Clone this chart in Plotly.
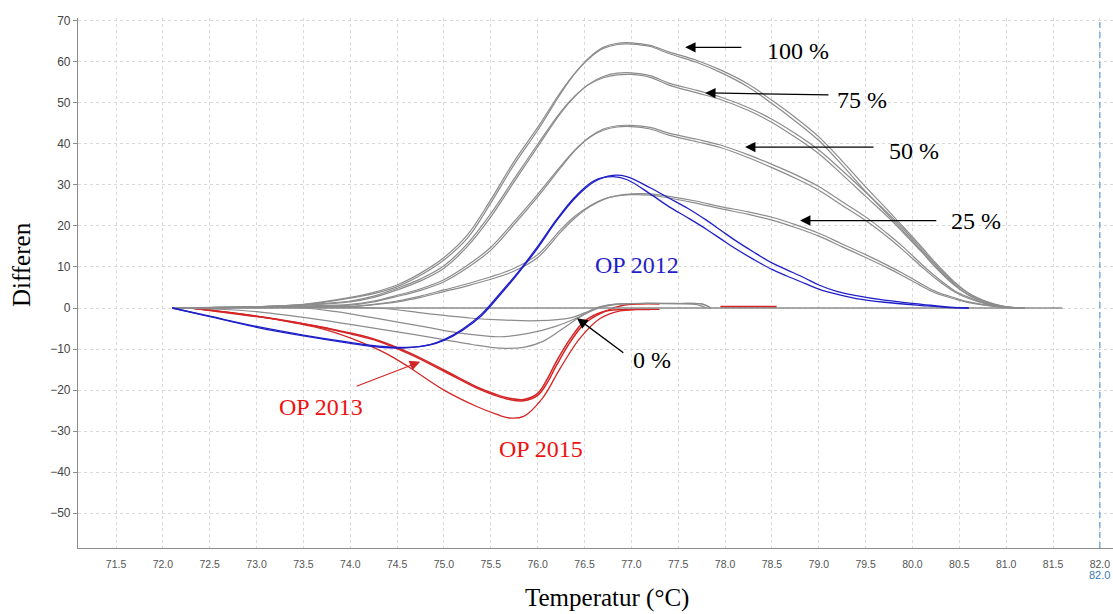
import plotly.graph_objects as go

# ---- melt-curve difference data (temperature in °C, difference units) ----

# standard dilutions (two replicates each)
std_x = [72.1, 72.5, 73.0, 73.5, 74.0, 74.25, 74.5, 74.75, 75.0, 75.25, 75.5, 75.75,
         76.0, 76.25, 76.4, 76.55, 76.7, 76.85, 77.0, 77.2, 77.4, 77.7, 77.95, 78.25, 78.5,
         78.75, 79.0, 79.25, 79.5, 79.75, 79.9, 80.1, 80.25, 80.45, 80.6, 80.8, 81.0, 81.2]

std100_a = [0, 0.1, 0.3, 0.8, 2.4, 3.5, 5.2, 8.0, 11.7, 17.0, 25.6, 35.0, 43.3, 52.4, 57.2,
            61.0, 63.5, 64.5, 64.6, 64.0, 62.4, 60.3, 58.0, 54.5, 50.6, 46.4, 41.7, 35.8,
            29.5, 23.5, 19.8, 14.8, 10.9, 6.3, 3.6, 1.5, 0.3, 0]
std100_b = [0, 0.1, 0.3, 0.9, 2.6, 3.8, 5.6, 8.5, 12.3, 17.8, 26.4, 35.8, 44.0, 52.8, 57.3,
            60.8, 63.2, 64.2, 64.3, 63.7, 62.0, 59.8, 57.4, 53.8, 49.8, 45.5, 40.8, 34.8,
            28.4, 22.4, 18.8, 13.9, 10.1, 5.7, 3.1, 1.2, 0.2, 0]

std75_a = [0, 0.1, 0.3, 0.7, 1.5, 2.6, 4.4, 6.6, 9.7, 15.0, 22.2, 30.8, 39.3, 47.6, 51.6,
           54.6, 56.4, 57.2, 57.3, 56.6, 54.8, 53.0, 51.4, 48.8, 46.0, 42.5, 38.5, 33.5,
           28.2, 22.8, 19.3, 14.3, 10.5, 6.0, 3.6, 1.4, 0.3, 0]
std75_b = [0, 0.1, 0.3, 0.8, 1.7, 2.9, 4.8, 7.1, 10.3, 15.7, 23.0, 31.5, 39.9, 47.9, 51.7,
           54.5, 56.1, 56.8, 56.9, 56.2, 54.3, 52.4, 50.8, 48.1, 45.2, 41.6, 37.6, 32.5,
           27.2, 21.9, 18.4, 13.6, 9.8, 5.5, 3.2, 1.2, 0.2, 0]

std50_a = [0, 0.05, 0.2, 0.4, 0.7, 1.5, 2.8, 4.3, 6.4, 9.8, 14.1, 20.4, 27.1, 34.3, 38.4,
           41.6, 43.6, 44.4, 44.5, 44.0, 42.6, 41.1, 39.7, 37.3, 35.0, 32.5, 29.6, 25.9,
           22.2, 17.8, 14.9, 10.6, 7.6, 4.2, 2.6, 1.0, 0.2, 0]
std50_b = [0, 0.05, 0.2, 0.5, 0.9, 1.7, 3.1, 4.7, 6.9, 10.4, 14.8, 21.1, 27.7, 34.7, 38.6,
           41.5, 43.3, 44.1, 44.2, 43.6, 42.1, 40.5, 39.1, 36.6, 34.2, 31.6, 28.7, 25.0,
           21.3, 17.0, 14.1, 10.0, 7.1, 3.9, 2.3, 0.9, 0.2, 0]

std25_a = [0, 0, 0.1, 0.2, 0.3, 0.8, 1.5, 2.6, 4.0, 5.4, 7.0, 9.0, 12.3, 18.6, 22.0,
           24.6, 26.4, 27.4, 27.8, 27.8, 27.2, 26.0, 24.7, 23.4, 22.1, 20.3, 18.2, 15.6,
           13.0, 10.2, 8.4, 5.8, 4.0, 2.5, 1.5, 0.7, 0.2, 0]
std25_b = [0, 0, 0.1, 0.2, 0.4, 0.9, 1.7, 2.9, 4.4, 5.9, 7.6, 9.7, 13.0, 19.2, 22.4,
           24.8, 26.5, 27.3, 27.6, 27.5, 26.8, 25.5, 24.2, 22.8, 21.4, 19.6, 17.5, 14.9,
           12.3, 9.6, 7.8, 5.3, 3.6, 2.2, 1.3, 0.6, 0.1, 0]

# 0 % standards
zero1_x = [72.1, 74.28, 74.8, 75.3, 75.6, 76.0, 76.35, 76.5, 76.65, 76.8, 77.0, 77.5, 77.75, 77.85]
zero1_y = [0, 0, -1.3, -2.5, -2.9, -3.1, -2.4, -1.2, 0.2, 0.9, 1.1, 1.1, 1.0, 0]
zero2_x = [72.1, 73.5, 73.85, 74.3, 74.8, 75.2, 75.6, 75.9, 76.2, 76.4, 76.55, 76.7, 76.85,
           77.0, 77.5, 77.75, 77.85]
zero2_y = [0, 0, -0.9, -2.6, -4.6, -6.2, -7.0, -6.2, -4.4, -2.6, -1.0, 0.3, 0.9, 1.1, 1.1, 1.0, 0]
zero3_x = [72.1, 72.6, 73.0, 73.5, 74.0, 74.5, 75.0, 75.3, 75.6, 75.85, 76.05, 76.25, 76.45,
           76.6, 76.75, 76.9, 77.1, 77.5, 77.7, 77.8]
zero3_y = [0, -0.3, -0.9, -2.3, -4.0, -5.8, -7.7, -8.9, -9.8, -9.6, -8.2, -5.3, -2.2, -0.3,
           0.7, 1.0, 1.1, 1.0, 0.8, 0]
base_x = [72.1, 81.6]
base_y = [0, 0]

# OP 2012 (two replicates)
op12_x = [72.1, 72.5, 73.0, 73.5, 74.0, 74.3, 74.6, 74.85, 75.0, 75.2, 75.4, 75.6, 75.8,
          76.0, 76.2, 76.4, 76.6, 76.8, 76.95, 77.2, 77.4, 77.6, 77.8, 77.95, 78.1, 78.3,
          78.5, 78.66, 78.85, 79.0, 79.2, 79.4, 79.7, 80.1, 80.4, 80.6]
op12_a = [0, -2.0, -4.5, -6.6, -8.4, -9.3, -9.6, -9.0, -7.9, -5.4, -1.9, 3.2, 8.7, 14.6,
          21.2, 26.8, 30.7, 32.3, 32.0, 29.3, 26.8, 24.3, 21.4, 19.0, 16.6, 13.7, 11.0,
          9.3, 7.3, 5.6, 4.0, 3.0, 1.9, 0.9, 0.2, 0]
op12_b = [0, -2.1, -4.7, -6.8, -8.6, -9.5, -9.7, -8.9, -7.7, -5.1, -1.5, 3.6, 9.0, 15.0,
          21.5, 27.1, 31.0, 32.0, 31.3, 27.8, 24.7, 22.0, 19.2, 16.9, 14.6, 11.9, 9.4,
          7.8, 6.0, 4.6, 3.3, 2.3, 1.4, 0.6, 0.1, 0]

# OP 2013 (two replicates)
op13_x = [72.3, 72.6, 73.0, 73.4, 73.75, 74.0, 74.3, 74.64, 75.0, 75.35, 75.55, 75.7,
          75.85, 76.0, 76.1, 76.2, 76.35, 76.5, 76.7, 76.9, 77.1, 77.3]
op13_a = [0, -0.8, -2.0, -3.4, -4.9, -6.1, -7.9, -11.0, -15.1, -19.2, -21.0, -22.0,
          -22.3, -20.8, -17.4, -13.0, -7.4, -3.2, -0.9, -0.4, -0.3, -0.3]
op13_b = [0, -0.9, -2.1, -3.5, -5.0, -6.3, -8.1, -11.3, -15.4, -19.5, -21.3, -22.3,
          -22.6, -21.3, -18.3, -14.0, -8.2, -3.8, -1.0, 0.6, 1.0, 1.0]
op13_tail_x = [77.95, 78.55]
op13_tail_y = [0.3, 0.3]

# OP 2015
op15_x = [72.3, 72.6, 73.0, 73.4, 73.75, 74.1, 74.4, 74.64, 75.0, 75.35, 75.55, 75.7,
          75.85, 76.05, 76.24, 76.45, 76.67, 76.88, 77.05, 77.2]
op15_y = [0, -0.8, -2.0, -3.6, -5.4, -8.2, -11.3, -14.6, -20.0, -24.0, -25.8, -26.8,
          -26.4, -22.0, -14.7, -7.4, -2.5, -0.7, -0.4, -0.4]

# axis ticks
x_ticks = [71.5 + 0.5 * i for i in range(22)]
y_ticks = list(range(-50, 71, 10))
cursor_temp = 82.0

GRAY = "#8c8c8c"
BLUE = "#1f1fc8"
RED = "#d42626"

fig = go.Figure()


def add_line(x, y, color, width=1.3):
    fig.add_trace(go.Scatter(x=x, y=y, mode="lines",
                             line=dict(color=color, width=width, shape="spline", smoothing=1.0),
                             hoverinfo="skip", showlegend=False))


# red curves first, gray baselines drawn over them
add_line(op13_tail_x, op13_tail_y, RED, 2.0)
add_line(op15_x, op15_y, RED, 1.3)
add_line(op13_x, op13_a, RED, 1.5)
add_line(op13_x, op13_b, RED, 1.5)
add_line(base_x, base_y, GRAY, 1.5)
add_line(zero1_x, zero1_y, GRAY, 1.2)
add_line(zero2_x, zero2_y, GRAY, 1.2)
add_line(zero3_x, zero3_y, GRAY, 1.2)
for ys in (std25_a, std25_b, std50_a, std50_b, std75_a, std75_b, std100_a, std100_b):
    add_line(std_x, ys, GRAY, 1.2)
add_line(op12_x, op12_a, BLUE, 1.3)
add_line(op12_x, op12_b, BLUE, 1.3)

# cursor line at 82.0
fig.add_shape(type="line", x0=cursor_temp, x1=cursor_temp, y0=0, y1=1, yref="paper",
              line=dict(color="#5b9bd5", width=1.2, dash="6px,4px"))

SERIF = "Liberation Serif"

# arrows: (head x, head y, tail x, tail y, colour)
arrows = [
    (77.574, 63.5, 78.19, 63.5, "black"),
    (77.787, 52.4, 79.12, 51.9, "black"),
    (78.213, 39.2, 79.60, 39.2, "black"),
    (78.80, 21.3, 80.27, 21.3, "black"),
    (76.42, -2.5, 76.93, -11.2, "black"),
    (74.746, -13.1, 74.05, -19.2, RED),
]
for hx, hy, tx, ty, col in arrows:
    fig.add_annotation(x=hx, y=hy, ax=tx, ay=ty, xref="x", yref="y", axref="x", ayref="y",
                       text="", showarrow=True, arrowhead=2, arrowsize=1.6, arrowwidth=1.3,
                       arrowcolor=col, standoff=0, startstandoff=0)

# labels: (x, y, text, colour)
labels = [
    (78.78, 62.6, "100 %", "black"),
    (79.46, 50.7, "75 %", "black"),
    (80.02, 38.3, "50 %", "black"),
    (80.68, 21.3, "25 %", "black"),
    (77.22, -12.7, "0 %", "black"),
    (77.06, 10.5, "OP 2012", BLUE),
    (73.69, -24.1, "OP 2013", "#ee1111"),
    (76.04, -34.3, "OP 2015", "#ee1111"),
]
for lx, ly, txt, col in labels:
    fig.add_annotation(x=lx, y=ly, xref="x", yref="y", text=txt, showarrow=False,
                       font=dict(family=SERIF, size=24, color=col),
                       xanchor="center", yanchor="middle")

# axis titles
fig.add_annotation(x=0.511, y=-0.094, xref="paper", yref="paper", text="Temperatur (°C)",
                   showarrow=False, font=dict(family=SERIF, size=25, color="black"),
                   xanchor="center", yanchor="middle")
fig.add_annotation(x=-0.054, y=0.534, xref="paper", yref="paper", text="Differen",
                   showarrow=False, textangle=-90,
                   font=dict(family=SERIF, size=25, color="black"),
                   xanchor="center", yanchor="middle")
# cursor value readout
fig.add_annotation(x=0.9874, y=-0.051, xref="paper", yref="paper", text=f"{cursor_temp:.1f}",
                   showarrow=False, font=dict(family="Liberation Sans", size=11, color="#3a78b5"),
                   xanchor="center", yanchor="middle")

fig.update_layout(
    width=1113, height=614,
    margin=dict(l=78, r=0, t=18, b=66),
    paper_bgcolor="white", plot_bgcolor="white",
    showlegend=False,
    xaxis=dict(range=[71.094, 82.14], tickvals=x_ticks,
               ticktext=[f"{v:.1f}" for v in x_ticks],
               showgrid=True, gridcolor="#d9d9d9", griddash="3px,3px", gridwidth=1,
               showline=True, linecolor="#8c8c8c", linewidth=1.2,
               zeroline=False, ticks="", ticklabelstandoff=6,
               tickfont=dict(family="Liberation Sans", size=10.5, color="#555555")),
    yaxis=dict(range=[-58.47, 70.65], tickvals=y_ticks,
               showgrid=True, gridcolor="#d9d9d9", griddash="3px,3px", gridwidth=1,
               showline=True, linecolor="#8c8c8c", linewidth=1.2,
               zeroline=False, ticks="outside", ticklen=4, tickcolor="#8c8c8c",
               tickfont=dict(family="Liberation Sans", size=12, color="#444444")),
)

fig.write_html("out.html")
